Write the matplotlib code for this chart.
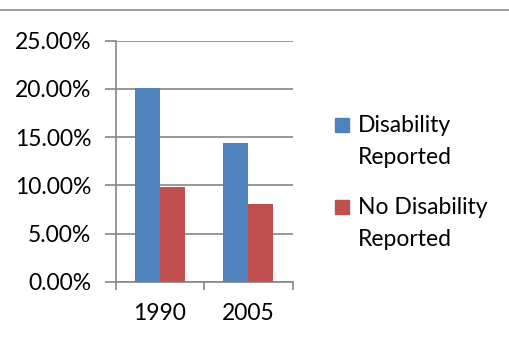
import matplotlib.pyplot as plt
import numpy as np
from matplotlib.lines import Line2D
from matplotlib.patches import Rectangle

years = ['1990', '2005']
disability = [20.1, 14.4]
no_disability = [9.8, 8.1]
series_names = ['Disability\nReported', 'No Disability\nReported']
colors = ['#4F81BD', '#C0504D']

plt.rcParams['font.family'] = ['Lato', 'DejaVu Sans']
fs = 16.5
W, H = 510, 344

fig = plt.figure(figsize=(W / 100, H / 100), dpi=100)
ax = fig.add_axes([115.7 / W, 1 - 281.7 / H, 177 / W, 241 / H])

x = np.arange(len(years))
w = 0.283
ax.bar(x - w / 2, disability, w, color=colors[0], zorder=3)
ax.bar(x + w / 2, no_disability, w, color=colors[1], zorder=3)

ax.set_xlim(-0.5, len(years) - 0.5)
ax.set_ylim(0, 25)
ax.set_yticks(np.arange(0, 26, 5))
ax.set_yticklabels([f'{v:.2f}%' for v in np.arange(0, 26, 5)], fontsize=fs)
ax.set_xticks(x)
ax.set_xticklabels(years, fontsize=fs)
ax.set_xticks(np.arange(-0.5, len(years), 1), minor=True)

grey = '#868686'
ax.grid(axis='y', color=grey, linewidth=1.2, zorder=0)
for s in ['top', 'right']:
    ax.spines[s].set_visible(False)
for s in ['left', 'bottom']:
    ax.spines[s].set_color(grey)
    ax.spines[s].set_linewidth(1.2)
ax.tick_params(axis='y', length=8, width=1.2, color=grey, pad=9.5)
ax.tick_params(axis='x', which='major', length=0, pad=15)
ax.tick_params(axis='x', which='minor', length=6, width=1.2, color=grey)

# borde superior del gráfico
fig.add_artist(Line2D([0, 1], [1 - 10.3 / H] * 2, color='#8c8c8c', linewidth=1.2))

# leyenda manual
for i, (name, c) in enumerate(zip(series_names, colors)):
    top = 118 + i * 82
    fig.add_artist(Rectangle((335 / W, 1 - (top + 13.5) / H), 14 / W, 13.5 / H,
                             color=c, transform=fig.transFigure))
    fig.text(358 / W, 1 - (top + 6.5 - 10) / H, name, fontsize=fs, va='top',
             ha='left', linespacing=1.7)

fig.savefig('out.png', dpi=100)
